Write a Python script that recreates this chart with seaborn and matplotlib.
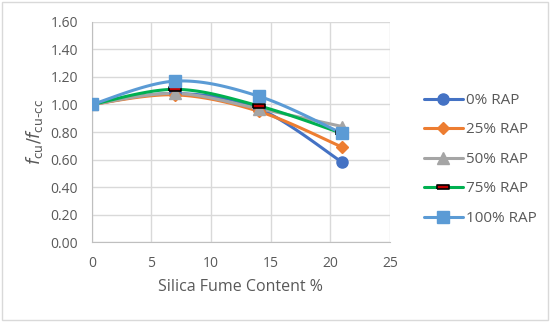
import numpy as np
import pandas as pd
import seaborn as sns
import matplotlib.pyplot as plt
from matplotlib.path import Path

# silica fume content (%) and strength ratio for each RAP level
silica_fume = [0, 7, 14, 21]
rap_0 = [1.00, 1.08, 0.97, 0.58]
rap_25 = [1.00, 1.07, 0.95, 0.69]
rap_50 = [1.00, 1.08, 0.97, 0.84]
rap_75 = [1.00, 1.11, 0.99, 0.79]
rap_100 = [1.00, 1.17, 1.06, 0.79]
series_names = ['0% RAP', '25% RAP', '50% RAP', '75% RAP', '100% RAP']


# Excel-like smoothed line through the points (bezier, catmull-rom style)
def smooth(xs, ys, n=30):
    pts = np.column_stack([xs, ys]).astype(float)
    padded = np.vstack([pts[0], pts, pts[-1]])
    out = []
    for i in range(len(pts) - 1):
        p0, p1, p2, p3 = padded[i], padded[i + 1], padded[i + 2], padded[i + 3]
        c1 = p1 + (p2 - p0) / 6
        c2 = p2 - (p3 - p1) / 6
        t = np.linspace(0, 1, n)[:, None]
        seg = (1 - t) ** 3 * p1 + 3 * (1 - t) ** 2 * t * c1 + 3 * (1 - t) * t ** 2 * c2 + t ** 3 * p2
        out.append(seg if i == 0 else seg[1:])
    out = np.vstack(out)
    return out[:, 0], out[:, 1]


sns.set_style('white')
plt.rcParams['font.family'] = ['Open Sans', 'DejaVu Sans']

colors = ['#4472C4', '#ED7D31', '#A5A5A5', '#00B050', '#5B9BD5']
rect = Path([(-1, -0.35), (1, -0.35), (1, 0.35), (-1, 0.35), (-1, -0.35)])
markers = ['o', 'D', '^', rect, 's']
msizes = [8, 6.5, 8, 9, 8.5]
all_vals = [rap_0, rap_25, rap_50, rap_75, rap_100]

fig = plt.figure(figsize=(5.5, 3.22), dpi=100)
ax = fig.add_axes([0.167, 0.248, 0.542, 0.684])

handles = []
for name, vals, col, mk, ms in zip(series_names, all_vals, colors, markers, msizes):
    sx, sy = smooth(silica_fume, vals)
    sns.lineplot(x=sx, y=sy, ax=ax, color=col, linewidth=2.2, sort=False, estimator=None)
    if name == '75% RAP':
        # flat black-edged red dash marker
        style = dict(marker=mk, markersize=ms, markerfacecolor='#C00000',
                     markeredgecolor='black', markeredgewidth=1.2)
    else:
        style = dict(marker=mk, markersize=ms, markerfacecolor=col, markeredgecolor=col)
    ax.plot(silica_fume, vals, linestyle='none', zorder=5, **style)
    h, = ax.plot([], [], color=col, linewidth=2.2, **style)
    handles.append(h)

ax.set_xlim(0, 25)
ax.set_ylim(0, 1.6)
ax.set_xticks(range(0, 26, 5))
ax.set_yticks(np.arange(0, 1.61, 0.2))
ax.set_yticklabels([f'{v:.2f}' for v in np.arange(0, 1.61, 0.2)])
ax.grid(True, color='#D9D9D9', linewidth=1)
ax.set_axisbelow(True)
for s in ['top', 'right']:
    ax.spines[s].set_visible(False)
for s in ['left', 'bottom']:
    ax.spines[s].set_color('#BFBFBF')
ax.tick_params(axis='both', colors='#595959', labelsize=10, length=4, width=1,
               direction='out', pad=6)
ax.tick_params(axis='both', color='#BFBFBF')

ax.set_xlabel('Silica Fume Content %', fontsize=11.5, color='#595959', labelpad=6)
ax.set_ylabel(r'$f_{\mathrm{cu}}/f_{\mathrm{cu\text{-}cc}}$', fontsize=12.5, color='#595959', labelpad=4)

fig.legend(handles, series_names, loc='center left', bbox_to_anchor=(0.745, 0.505),
           frameon=False, fontsize=11, labelcolor='#595959', labelspacing=0.95,
           handlelength=2.6, handletextpad=0.2)

fig.patches.append(plt.Rectangle((0.004, 0.006), 0.992, 0.988, transform=fig.transFigure,
                                 fill=False, edgecolor='#D9D9D9', linewidth=1))

fig.savefig('out.png', dpi=100)
